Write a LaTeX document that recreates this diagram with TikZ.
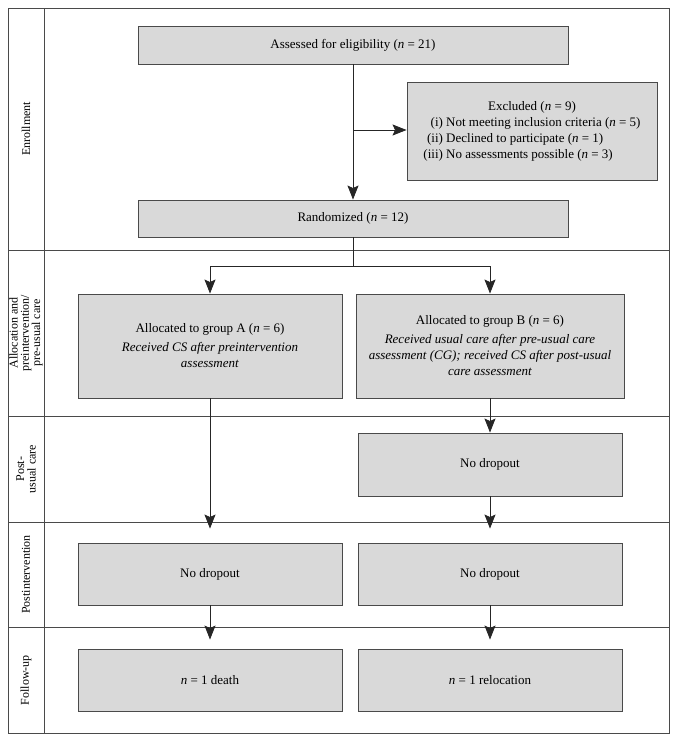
\documentclass[tikz,border=0pt]{standalone}
\usepackage{fontspec}
\setmainfont{Liberation Serif}
\usetikzlibrary{arrows.meta}
\definecolor{boxgray}{HTML}{D9D9D9}
\definecolor{edgegray}{HTML}{4A4A4A}

\begin{document}
\begin{tikzpicture}[x=1pt,y=-1pt,
    box/.style={draw=edgegray,line width=0.9pt,fill=boxgray,inner sep=2pt,
      align=center,font=\fontsize{13}{16}\selectfont},
    arr/.style={-{Stealth[length=14pt,width=11pt,inset=2.5pt]},draw=black!85,line width=0.8pt},
    sectlbl/.style={rotate=90,align=center,inner sep=0pt,font=\fontsize{12}{11.3}\selectfont}]
  \useasboundingbox (0,0) rectangle (678,742);

  % frame and rows
  \draw[edgegray,line width=0.9pt] (8,8) rectangle (669,733);
  \draw[edgegray,line width=0.9pt] (44,8) -- (44,733);
  \foreach \yy in {250,416,522,627}
    \draw[edgegray,line width=0.9pt] (8,\yy) -- (669,\yy);

  % row labels
  \node[sectlbl] (lenrol) at (26,129) {Enrollment};
  \node[sectlbl] (lalloc) at (26,333) {Allocation and\\ preintervention/\\ pre-usual care};
  \node[sectlbl] (lpost) at (26,469) {Post-\\ usual care};
  \node[sectlbl] (lpostint) at (26,574.5) {Postintervention};
  \node[sectlbl] (lfollow) at (26,680) {Follow-up};

  % enrollment
  \node[box,minimum width=430,minimum height=38] (assess) at (353,45)
    {Assessed for eligibility (\textit{n} = 21)};
  \node[box,minimum width=250,minimum height=98] (excl) at (532,131)
    {\begin{tabular}{@{}r@{~}l@{}}
      \multicolumn{2}{c}{Excluded (\textit{n} = 9)}\\
      (i) & Not meeting inclusion criteria (\textit{n} = 5)\\
      (ii) & Declined to participate (\textit{n} = 1)\\
      (iii) & No assessments possible (\textit{n} = 3)
    \end{tabular}};
  \node[box,minimum width=430,minimum height=37] (rand) at (353,218.5)
    {Randomized (\textit{n} = 12)};

  % allocation
  \node[box,minimum width=264,minimum height=104] (grpA) at (210,346)
    {Allocated to group A (\textit{n} = 6)\\[3pt]
     \textit{Received CS after preintervention}\\ \textit{assessment}};
  \node[box,minimum width=268,minimum height=104] (grpB) at (490,346)
    {Allocated to group B (\textit{n} = 6)\\[3pt]
     \textit{Received usual care after pre-usual care}\\
     \textit{assessment (CG); received CS after post-usual}\\
     \textit{care assessment}};

  % post-usual care
  \node[box,minimum width=264,minimum height=63] (usualB) at (490,464.5) {No dropout};

  % postintervention
  \node[box,minimum width=264,minimum height=62] (postA) at (210,574) {No dropout};
  \node[box,minimum width=264,minimum height=62] (postB) at (490,574) {No dropout};

  % follow-up
  \node[box,minimum width=264,minimum height=62] (follA) at (210,680) {\textit{n} = 1 death};
  \node[box,minimum width=264,minimum height=62] (follB) at (490,680) {\textit{n} = 1 relocation};

  % connectors
  \coordinate (split) at (353,130);
  \coordinate (fork) at (353,266);
  \coordinate (forkA) at (210,266);
  \coordinate (forkB) at (490,266);
  \draw[arr] (assess) -- (rand);
  \draw[arr] (split) -- (excl.west |- split);
  \draw[draw=black!85,line width=0.8pt] (rand) -- (fork);
  \draw[draw=black!85,line width=0.8pt] (forkA) -- (forkB);
  \draw[arr] (forkA) -- (grpA);
  \draw[arr] (forkB) -- (grpB);
  \draw[arr,shorten >=14pt] (grpA) -- (postA);
  \draw[arr] (grpB) -- (usualB);
  \draw[arr,shorten >=14pt] (usualB) -- (postB);
  \draw[arr,shorten >=9pt] (postA) -- (follA);
  \draw[arr,shorten >=9pt] (postB) -- (follB);
\end{tikzpicture}
\end{document}
